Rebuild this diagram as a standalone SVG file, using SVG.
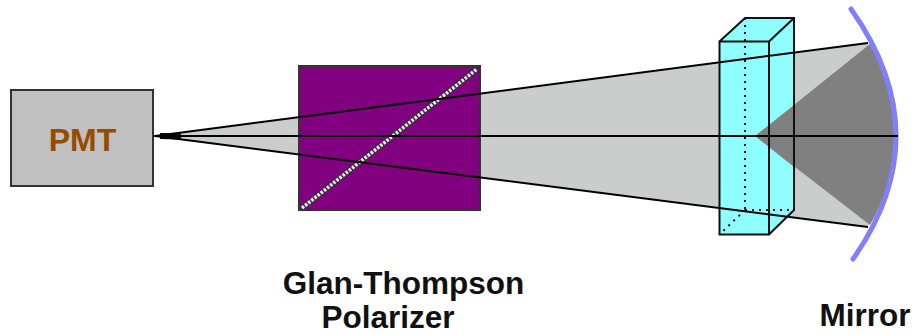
<svg xmlns="http://www.w3.org/2000/svg" width="912" height="335" viewBox="0 0 912 335">
<style>
.lbl{font-family:"Liberation Sans",Arial,sans-serif;font-size:31.500px;font-weight:700;fill:#111;text-anchor:middle}
.ray{fill:none;stroke:#000;stroke-width:2}
.edge{fill:none;stroke:#111;stroke-width:2}
.dot{fill:none;stroke:#111;stroke-width:2;stroke-dasharray:2 5}
</style>
<rect width="912" height="335" fill="#fff"/>
<g id="cone"><path d="M155,136L868,43Q922,135 868,227Z" fill="#cbcdcd"/></g>
<g id="pmt">
<rect x="11" y="90" width="142" height="96" fill="#c0c0c0" stroke="#333" stroke-width="2"/>
<text x="82.500" y="151" font-family="Liberation Sans, Arial, sans-serif" font-size="32" font-weight="700" fill="#964B00" text-anchor="middle">PMT</text>
</g>
<g id="polarizer">
<rect x="299" y="66" width="181" height="144" fill="#800080" stroke="#333" stroke-width="2"/>
<path d="M302,208L477,69" stroke="#333" stroke-width="5"/>
<path d="M302,208L477,69" stroke="#eee" stroke-width="3.500" stroke-dasharray="2.500 1.500"/>
</g>
<g id="focus"><path d="M755,136L870,44Q922,135 870,225Z" fill="#808080"/></g>
<g id="cell">
<path d="M719.500,41.500L745,18H794V210L769,234.500H719.500Z" fill="#8ffefe"/>
<path d="M755,136L794,105V167Z" fill="#808080"/>
<path d="M745,18V210M745,210H794M745,210L720,234" class="dot"/>
</g>
<g id="mirror"><path d="M851,9Q940,135 853,259" fill="none" stroke="#8080ff" stroke-width="5" stroke-linecap="round"/></g>
<g id="connectors">
<path d="M160,133L181,133.500V139.500L160,139Z" fill="#000"/>
<path d="M155,136L868,43M155,136L868,227M153,136H898" class="ray"/>
</g>
<g id="cell-edges">
<path d="M719.500,41.500H769V234.500H719.500ZM719.500,41.500L745,18H794V210L769,234.500M769,41.500L794,18" class="edge"/>
</g>
<g id="labels">
<text class="lbl" x="403.500" y="294">Glan-Thompson</text>
<text class="lbl" x="388" y="328">Polarizer</text>
<text class="lbl" x="865" y="326">Mirror</text>
</g>
</svg>
